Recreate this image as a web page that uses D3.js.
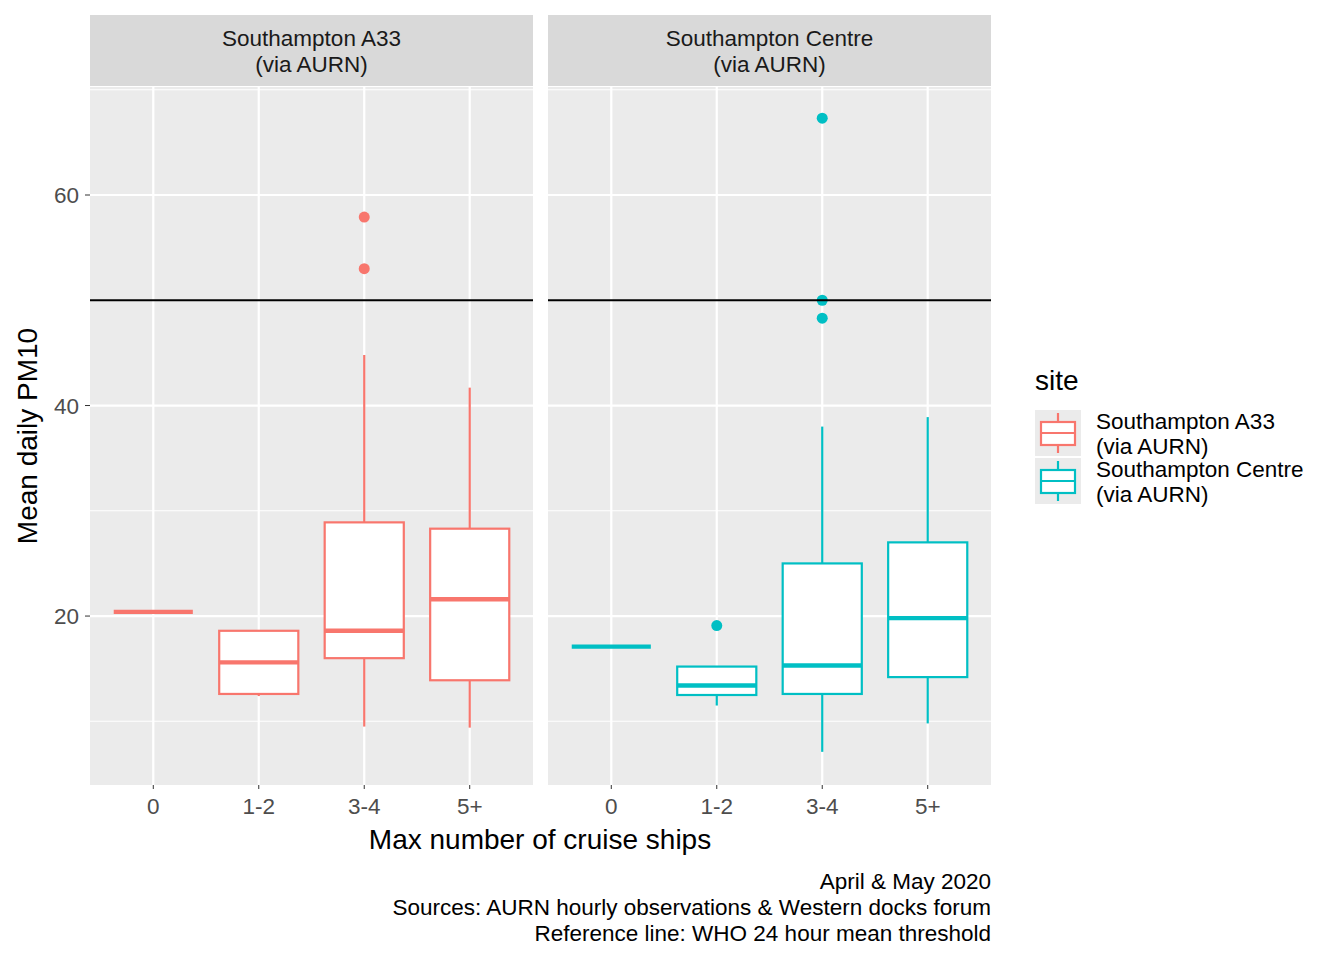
<!DOCTYPE html>
<html><head><meta charset="utf-8"><script src="https://cdn.jsdelivr.net/npm/d3@7"></script>
<style>body{margin:0;background:#fff}text{font-family:"Liberation Sans",Arial,sans-serif}</style></head>
<body><svg id="c" width="1344" height="960"></svg>
<script>
const categories=["0","1-2","3-4","5+"];
const sites=["Southampton A33\n(via AURN)","Southampton Centre\n(via AURN)"];
const colors=["#F8766D","#00BFC4"];
const yTicks=[20,40,60];
// [lowWhisker,q1,median,q3,highWhisker]
const statsA33=[[20.4,20.4,20.4,20.4,20.4],[12.4,12.6,15.6,18.6,18.6],[9.5,16.0,18.6,28.9,44.8],[9.4,13.9,21.6,28.3,41.7]];
const statsCentre=[[17.1,17.1,17.1,17.1,17.1],[11.5,12.5,13.4,15.2,15.2],[7.1,12.6,15.3,25.0,38.0],[9.8,14.2,19.8,27.0,38.9]];
const outA33=[[],[],[57.9,53.0],[]];
const outCentre=[[],[19.1],[67.3,50.0,48.3],[]];
const refLine=50;
const allStats=[statsA33,statsCentre],allOut=[outA33,outCentre];
const svg=d3.select("#c");
const fs=22.5, fl=28;
const y=d3.scaleLinear().domain([3.95,70.26]).range([785,87]);
const panels=[[90,533],[548,991]];
panels.forEach(([x0,x1],pi)=>{
 const g=svg.append("g");
 const x=d3.scaleBand().domain(categories).range([x0,x1]).paddingInner(0).paddingOuter(0.1);
 g.append("rect").attr("x",x0).attr("y",87).attr("width",x1-x0).attr("height",698).attr("fill","#EBEBEB");
 [10,30,50,70].forEach(v=>g.append("line").attr("x1",x0).attr("x2",x1).attr("y1",y(v)).attr("y2",y(v)).attr("stroke","#fff").attr("stroke-width",1.1));
 yTicks.forEach(v=>g.append("line").attr("x1",x0).attr("x2",x1).attr("y1",y(v)).attr("y2",y(v)).attr("stroke","#fff").attr("stroke-width",2.2));
 categories.forEach(c=>{const cx=x(c)+x.bandwidth()/2;g.append("line").attr("x1",cx).attr("x2",cx).attr("y1",87).attr("y2",785).attr("stroke","#fff").attr("stroke-width",2.2);
  g.append("line").attr("x1",cx).attr("x2",cx).attr("y1",785).attr("y2",789).attr("stroke","#333");
  g.append("text").attr("x",cx).attr("y",814).attr("text-anchor","middle").attr("font-size",fs).attr("fill","#4D4D4D").text(c);});
 g.append("rect").attr("x",x0).attr("y",15).attr("width",x1-x0).attr("height",71).attr("fill","#D9D9D9");
 sites[pi].split("\n").forEach((t,i)=>g.append("text").attr("x",(x0+x1)/2).attr("y",46+i*26).attr("text-anchor","middle").attr("font-size",fs).attr("fill","#1A1A1A").text(t));
 const col=colors[pi],bw=x.bandwidth()*0.75;
 categories.forEach((c,i)=>{const s=allStats[pi][i],cx=x(c)+x.bandwidth()/2;
  g.append("line").attr("x1",cx).attr("x2",cx).attr("y1",y(s[3])).attr("y2",y(s[4])).attr("stroke",col).attr("stroke-width",2.2);
  g.append("line").attr("x1",cx).attr("x2",cx).attr("y1",y(s[0])).attr("y2",y(s[1])).attr("stroke",col).attr("stroke-width",2.2);
  g.append("rect").attr("x",cx-bw/2).attr("width",bw).attr("y",y(s[3])).attr("height",y(s[1])-y(s[3])).attr("fill","#fff").attr("stroke",col).attr("stroke-width",2.2);
  g.append("line").attr("x1",cx-bw/2).attr("x2",cx+bw/2).attr("y1",y(s[2])).attr("y2",y(s[2])).attr("stroke",col).attr("stroke-width",4.4);
  allOut[pi][i].forEach(v=>g.append("circle").attr("cx",cx).attr("cy",y(v)).attr("r",5.5).attr("fill",col));});
 g.append("line").attr("x1",x0).attr("x2",x1).attr("y1",y(refLine)).attr("y2",y(refLine)).attr("stroke","#000").attr("stroke-width",2.2);
});
yTicks.forEach(v=>{svg.append("line").attr("x1",85).attr("x2",90).attr("y1",y(v)).attr("y2",y(v)).attr("stroke","#333");
 svg.append("text").attr("x",79).attr("y",y(v)+8).attr("text-anchor","end").attr("font-size",fs).attr("fill","#4D4D4D").text(v);});
svg.append("text").attr("transform","translate(37,436) rotate(-90)").attr("text-anchor","middle").attr("font-size",fl).text("Mean daily PM10");
svg.append("text").attr("x",540).attr("y",849).attr("text-anchor","middle").attr("font-size",fl).text("Max number of cruise ships");
["April & May 2020 ","Sources: AURN hourly observations & Western docks forum","Reference line: WHO 24 hour mean threshold"].forEach((t,i)=>svg.append("text").attr("x",991).attr("y",889+i*26).attr("text-anchor","end").attr("font-size",fs).text(t));
svg.append("text").attr("x",1035).attr("y",390).attr("font-size",fl).text("site");
sites.forEach((s,i)=>{const ly=410+i*48;
 svg.append("rect").attr("x",1035).attr("y",ly).attr("width",46).attr("height",46).attr("fill","#EBEBEB");
 svg.append("line").attr("x1",1058).attr("x2",1058).attr("y1",ly+3).attr("y2",ly+43).attr("stroke",colors[i]).attr("stroke-width",2.2);
 svg.append("rect").attr("x",1041).attr("y",ly+12).attr("width",34).attr("height",23).attr("fill","#fff").attr("stroke",colors[i]).attr("stroke-width",2.2);
 svg.append("line").attr("x1",1041).attr("x2",1075).attr("y1",ly+23).attr("y2",ly+23).attr("stroke",colors[i]).attr("stroke-width",2.2);
 s.split("\n").forEach((t,k)=>svg.append("text").attr("x",1096).attr("y",ly+19+k*25).attr("font-size",fs).text(t));});
</script></body></html>
